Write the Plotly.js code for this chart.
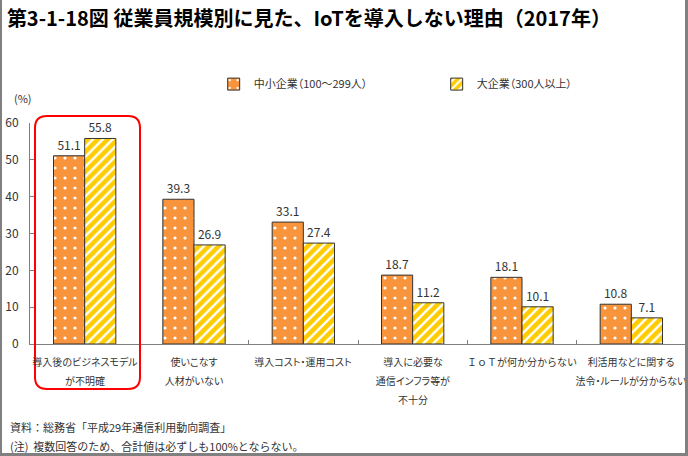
<!DOCTYPE html>
<html>
<head>
<meta charset="utf-8">
<script src="https://cdn.plot.ly/plotly-3.0.1.min.js"></script>
<style>
  body { margin: 0; background: #fff; }
  #wrap { position: relative; width: 688px; height: 456px; }
  #chart { width: 688px; height: 456px; }
  #frame {
    position: absolute; left: 0; top: 0; width: 688px; height: 456px;
    box-sizing: border-box; pointer-events: none;
    border-left: 2px solid #808080; border-right: 3px solid #808080; border-bottom: 3px solid #808080;
  }
  #chart .legendtext { font-feature-settings: "palt" 1; }
</style>
</head>
<body>
<div id="wrap">
  <div id="chart"></div>
  <div id="frame"></div>
</div>
<script>
// categories and values
var categories = [
  "導入後のビジネスモデル<br>が不明確",
  "使いこなす<br>人材がいない",
  "導入コスト・運用コスト",
  "導入に必要な<br>通信インフラ等が<br>不十分",
  "ＩｏＴが何か分からない",
  "利活用などに関する<br>法令・ルールが分からない"
]
var smeValues = [51.1, 39.3, 33.1, 18.7, 18.1, 10.8]
var largeValues = [55.8, 26.9, 27.4, 11.2, 10.1, 7.1]
var seriesNames = ["中小企業（100～299人）", "大企業（300人以上）"]
var yTicks = [0, 10, 20, 30, 40, 50, 60]

var font = "'Noto Sans CJK JP', 'Noto Sans', sans-serif"
var textColor = "#333333"

var sme = {
  type: "bar",
  name: seriesNames[0],
  x: categories,
  y: smeValues,
  marker: {
    color: "#F7943C",
    line: { color: "#333333", width: 1 },
    pattern: { shape: ".", fgcolor: "#ffffff", bgcolor: "#F7943C", size: 10, solidity: 0.08 }
  },
  texttemplate: "%{y:.1f}",
  textposition: "outside",
  textfont: { size: 12, color: textColor, family: font },
  cliponaxis: false,
  hoverinfo: "skip"
}

var large = {
  type: "bar",
  name: seriesNames[1],
  x: categories,
  y: largeValues,
  marker: {
    color: "#FFCC00",
    line: { color: "#333333", width: 1 },
    pattern: { shape: "/", fgcolor: "#ffffff", bgcolor: "#FFCC00", size: 7, solidity: 0.35 }
  },
  texttemplate: "%{y:.1f}",
  textposition: "outside",
  textfont: { size: 12, color: textColor, family: font },
  cliponaxis: false,
  hoverinfo: "skip"
}

// red rounded box around the first category (paper coordinates)
var bx0 = 0.0076, bx1 = 0.1677, by0 = -0.2036, by1 = 1.0317
var rx = 0.0183, ry = 0.0543
var boxPath = "M" + (bx0 + rx) + "," + by1 +
  " L" + (bx1 - rx) + "," + by1 +
  " Q" + bx1 + "," + by1 + " " + bx1 + "," + (by1 - ry) +
  " L" + bx1 + "," + (by0 + ry) +
  " Q" + bx1 + "," + by0 + " " + (bx1 - rx) + "," + by0 +
  " L" + (bx0 + rx) + "," + by0 +
  " Q" + bx0 + "," + by0 + " " + bx0 + "," + (by0 + ry) +
  " L" + bx0 + "," + (by1 - ry) +
  " Q" + bx0 + "," + by1 + " " + (bx0 + rx) + "," + by1 + " Z"

var annotations = [
  { text: "(%)", xref: "paper", yref: "paper", x: -0.027, y: 1.113,
    xanchor: "left", yanchor: "middle", showarrow: false,
    font: { size: 11, color: textColor, family: font } },
  { text: "資料：総務省「平成29年通信利用動向調査」", xref: "paper", yref: "paper",
    x: -0.034, y: -0.376, xanchor: "left", yanchor: "middle", showarrow: false,
    font: { size: 11, color: textColor, family: font } },
  { text: "(注)  複数回答のため、合計値は必ずしも100%とならない。", xref: "paper", yref: "paper",
    x: -0.034, y: -0.462, xanchor: "left", yanchor: "middle", showarrow: false,
    font: { size: 11, color: textColor, family: font } }
]

// category labels, one line at a time so the line spacing matches (19px)
var plotH = 456 - 123 - 112
var paltIndex = []
categories.forEach(function(cat) {
  cat.split("<br>").forEach(function(line, j) {
    if (line.indexOf("ＩｏＴ") < 0) paltIndex.push(annotations.length)
    annotations.push({
      text: line, x: cat, xref: "x", yref: "paper",
      y: -(17 + 19 * j) / plotH, xanchor: "center", yanchor: "middle",
      showarrow: false, font: { size: 10, color: textColor, family: font }
    })
  })
})

var layout = {
  width: 688,
  height: 456,
  margin: { l: 30, r: 2, t: 123, b: 112 },
  paper_bgcolor: "#ffffff",
  plot_bgcolor: "#ffffff",
  font: { family: font, color: textColor, size: 11 },
  title: {
    text: "<b>第3-1-18図 従業員規模別に見た、IoTを導入しない理由（2017年）</b>",
    font: { family: font, size: 20, color: "#000000" },
    x: 0.010, xanchor: "left",
    y: 0.958, yanchor: "middle", yref: "container"
  },
  barmode: "group",
  bargap: 0.43,
  bargroupgap: 0,
  showlegend: true,
  legend: {
    orientation: "h",
    x: 0.280, xanchor: "left",
    y: 1.176, yanchor: "middle",
    entrywidth: 178, entrywidthmode: "pixels",
    font: { size: 11, color: textColor, family: font },
    traceorder: "normal"
  },
  xaxis: {
    type: "category",
    range: [-0.5, categories.length - 0.5],
    showline: true, linecolor: "#808080", linewidth: 1,
    ticks: "inside", tickson: "boundaries", ticklen: 4, tickcolor: "#808080",
    showticklabels: false,
    showgrid: false, zeroline: false,
    fixedrange: true
  },
  yaxis: {
    range: [0, 60],
    tickvals: yTicks,
    ticktext: yTicks.map(String),
    showline: true, linecolor: "#808080", linewidth: 1,
    ticks: "inside", ticklen: 4, tickcolor: "#808080",
    ticklabelstandoff: 8,
    tickfont: { size: 12, color: textColor, family: font },
    showgrid: false, zeroline: false,
    fixedrange: true
  },
  shapes: [
    { type: "path", xref: "paper", yref: "paper", path: boxPath,
      line: { color: "#FF0000", width: 2 }, fillcolor: "rgba(0,0,0,0)", layer: "above" }
  ],
  annotations: annotations
}

Plotly.newPlot("chart", [sme, large], layout, { displayModeBar: false, staticPlot: true }).then(function(gd) {
  // proportional kana for the category labels, like the original's font
  gd.querySelectorAll("g.annotation").forEach(function(g) {
    var i = +g.getAttribute("data-index")
    if (paltIndex.indexOf(i) >= 0) {
      var t = g.querySelector("text")
      if (t) t.style.fontFeatureSettings = '"palt" 1'
    }
  })
})
</script>
</body>
</html>
